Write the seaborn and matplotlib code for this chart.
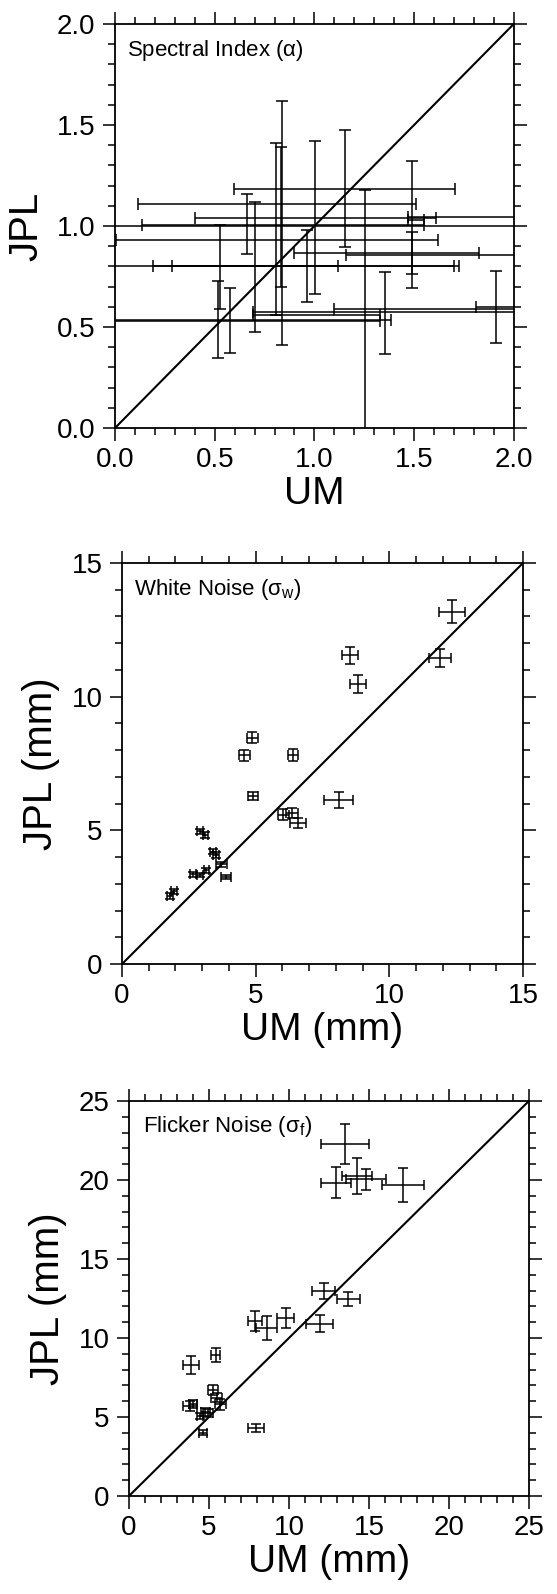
import matplotlib
matplotlib.use('Agg')
import matplotlib.pyplot as plt
import seaborn as sns
from matplotlib.ticker import MultipleLocator, FormatStrFormatter

# Spectral index (alpha) - UM vs JPL, asymmetric errors
alpha_um = [0.518, 0.576, 0.528, 0.660, 0.700, 0.807, 0.830, 0.836,
            0.963, 1.003, 1.152, 1.256, 1.353, 1.487, 1.910, 1.487]
alpha_jpl = [0.535, 0.530, 0.800, 1.005, 0.800, 0.559, 1.040, 0.930,
             0.800, 1.110, 1.185, 0.590, 0.573, 1.030, 0.597, 0.865]
alpha_um_lo = [0.90, 0.88, 0.338, 0.523, 0.412, 0.117, 0.430, 0.833,
               1.30, 0.887, 0.554, 0.160, 0.663, 0.017, 0.10, 0.587]
alpha_um_hi = [0.867, 0.751, 0.590, 0.890, 1.00, 0.520, 0.778, 0.782,
               0.761, 0.505, 0.555, 1.20, 1.00, 0.063, 0.10, 0.337]
alpha_jpl_lo = [0.187, 0.160, 0.211, 0.144, 0.323, 0.0, 0.340, 0.520,
                0.175, 0.447, 0.291, 0.80, 0.205, 0.335, 0.177, 0.105]
alpha_jpl_hi = [0.195, 0.165, 0.205, 0.153, 0.320, 0.850, 0.350, 0.690,
                0.180, 0.310, 0.290, 0.590, 0.201, 0.290, 0.182, 0.105]

# alpha estimates whose JPL error is off-scale: only the UM range shows
alpha_wide_um = [1.600, 1.750, 1.000]
alpha_wide_jpl = [0.855, 1.045, 1.000]
alpha_wide_lo = [0.440, 0.280, 1.200]
alpha_wide_hi = [1.000, 1.000, 1.200]

# White noise (sigma_w), mm
white_um = [12.35, 8.54, 11.89, 8.83, 4.87, 4.58, 6.39, 4.91, 8.10, 6.04, 6.35, 6.57,
            2.92, 3.12, 3.41, 3.52, 3.72, 3.15, 2.66, 2.92, 3.89, 1.79, 1.95]
white_jpl = [13.18, 11.55, 11.45, 10.47, 8.47, 7.81, 7.83, 6.28, 6.13, 5.59, 5.65, 5.27,
             4.96, 4.83, 4.20, 4.08, 3.73, 3.51, 3.35, 3.33, 3.26, 2.55, 2.72]
white_um_err = [0.48, 0.30, 0.41, 0.30, 0.20, 0.20, 0.18, 0.18, 0.53, 0.22, 0.22, 0.30,
                0.10, 0.10, 0.12, 0.12, 0.20, 0.10, 0.10, 0.10, 0.18, 0.10, 0.10]
white_jpl_err = [0.43, 0.31, 0.35, 0.33, 0.20, 0.20, 0.22, 0.15, 0.30, 0.20, 0.20, 0.18,
                 0.10, 0.10, 0.10, 0.10, 0.10, 0.10, 0.08, 0.08, 0.08, 0.10, 0.10]

# Flicker noise (sigma_f), mm
flicker_um = [13.49, 12.93, 14.24, 14.80, 17.12, 12.16, 13.71, 7.88, 8.61, 9.80, 11.93,
              3.88, 5.43, 5.26, 5.48, 5.70, 3.82, 3.99, 4.77, 4.95, 4.44, 4.61, 7.94]
flicker_jpl = [22.30, 19.83, 20.25, 20.04, 19.68, 12.97, 12.45, 11.08, 10.61, 11.25, 10.90,
               8.29, 8.92, 6.69, 6.22, 5.80, 5.70, 5.80, 5.34, 5.27, 5.06, 4.01, 4.28]
flicker_um_err = [1.50, 0.93, 0.92, 1.25, 1.30, 0.70, 0.70, 0.42, 0.66, 0.52, 0.85,
                  0.52, 0.28, 0.30, 0.35, 0.35, 0.42, 0.25, 0.30, 0.30, 0.20, 0.25, 0.53]
flicker_jpl_err = [1.27, 1.00, 1.14, 0.65, 1.05, 0.50, 0.45, 0.63, 0.76, 0.65, 0.55,
                   0.60, 0.44, 0.32, 0.30, 0.35, 0.30, 0.25, 0.25, 0.25, 0.20, 0.15, 0.25]

sns.set_theme(style='ticks')
plt.rcParams['font.family'] = ['Liberation Sans', 'DejaVu Sans']
plt.rcParams['mathtext.fontset'] = 'custom'
plt.rcParams['mathtext.rm'] = 'Liberation Sans'
plt.rcParams['mathtext.it'] = 'Liberation Sans:italic'
plt.rcParams['text.color'] = 'black'
plt.rcParams['axes.labelcolor'] = 'black'

fig = plt.figure(figsize=(5.57, 15.94), dpi=100)
ax1 = fig.add_axes([0.2065, 0.7315, 0.716, 0.2535])
ax2 = fig.add_axes([0.219, 0.3952, 0.72, 0.2516])
ax3 = fig.add_axes([0.2316, 0.0615, 0.718, 0.2478])


def style_axis(ax, lim, major, minor, fmt):
    ax.set_xlim(0, lim)
    ax.set_ylim(0, lim)
    for axis in (ax.xaxis, ax.yaxis):
        axis.set_major_locator(MultipleLocator(major))
        axis.set_minor_locator(MultipleLocator(minor))
        axis.set_major_formatter(FormatStrFormatter(fmt))
    ax.tick_params(which='both', direction='out', top=True, right=True,
                   width=1.1, color='black', labelsize=20, labelcolor='black')
    ax.tick_params(which='major', length=9, pad=5)
    ax.tick_params(which='minor', length=5)
    for sp in ax.spines.values():
        sp.set_visible(True)
        sp.set_linewidth(1.3)
        sp.set_color('black')
    ax.set_facecolor('white')
    # one-to-one line
    sns.lineplot(x=[0, lim], y=[0, lim], ax=ax, color='black', linewidth=1.5)


# Panel 1: spectral index
style_axis(ax1, 2.0, 0.5, 0.1, '%.1f')
ax1.errorbar(alpha_um, alpha_jpl,
             xerr=[alpha_um_lo, alpha_um_hi], yerr=[alpha_jpl_lo, alpha_jpl_hi],
             fmt='none', ecolor='black', elinewidth=1.1, capsize=4, capthick=1.1)
ax1.errorbar(alpha_wide_um, alpha_wide_jpl, xerr=[alpha_wide_lo, alpha_wide_hi],
             fmt='none', ecolor='black', elinewidth=1.1, capsize=4, capthick=1.1)
ax1.text(0.03, 0.935, r'Spectral Index ($\mathrm{\alpha}$)', transform=ax1.transAxes,
         fontsize=16, va='center', ha='left', color='black')
ax1.set_xlabel('UM', fontsize=28, labelpad=2)
ax1.set_ylabel('JPL', fontsize=29, labelpad=8)

# Panel 2: white noise
style_axis(ax2, 15, 5, 1, '%d')
ax2.errorbar(white_um, white_jpl, xerr=white_um_err, yerr=white_jpl_err,
             fmt='none', ecolor='black', elinewidth=1.1, capsize=3.5, capthick=1.1)
ax2.text(0.03, 0.933, r'White Noise ($\mathrm{\sigma_w}$)', transform=ax2.transAxes,
         fontsize=16, va='center', ha='left', color='black')
ax2.set_xlabel('UM (mm)', fontsize=28, labelpad=2)
ax2.set_ylabel('JPL (mm)', fontsize=29, labelpad=8)

# Panel 3: flicker noise
style_axis(ax3, 25, 5, 1, '%d')
ax3.errorbar(flicker_um, flicker_jpl, xerr=flicker_um_err, yerr=flicker_jpl_err,
             fmt='none', ecolor='black', elinewidth=1.1, capsize=3.5, capthick=1.1)
ax3.text(0.035, 0.936, r'Flicker Noise ($\mathrm{\sigma_f}$)', transform=ax3.transAxes,
         fontsize=16, va='center', ha='left', color='black')
ax3.set_xlabel('UM (mm)', fontsize=28, labelpad=2)
ax3.set_ylabel('JPL (mm)', fontsize=29, labelpad=8)

fig.savefig('out.png', dpi=100, facecolor='white')
